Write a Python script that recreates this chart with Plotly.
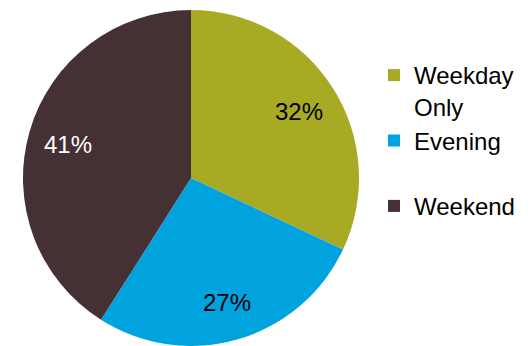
import math
import plotly.graph_objects as go

labels = ["Weekday<br>Only", "Evening<br>&nbsp;", "Weekend"]
values = [32, 27, 41]
colors = ["#A8AA24", "#00A3DE", "#453033"]
text_colors = ["black", "black", "white"]

W, H = 531, 346
dom_x = [23 / W, 359 / W]
dom_y = [0, 1 - 10 / H]

fig = go.Figure(go.Pie(
    labels=labels,
    values=values,
    sort=False,
    direction="clockwise",
    rotation=0,
    marker=dict(colors=colors, line=dict(width=0)),
    textinfo="none",
    hoverinfo="skip",
    domain=dict(x=dom_x, y=dom_y),
))

# percentage labels placed along each slice's mid-angle
total = sum(values)
cx = (dom_x[0] + dom_x[1]) / 2 * W
cy = (1 - (dom_y[0] + dom_y[1]) / 2) * H
R = min((dom_x[1] - dom_x[0]) * W, (dom_y[1] - dom_y[0]) * H) / 2
cum = 0
for v, tc in zip(values, text_colors):
    mid = (cum + v / 2) / total * 2 * math.pi
    cum += v
    px = cx + 0.76 * R * math.sin(mid)
    py = cy - 0.76 * R * math.cos(mid) + 2
    fig.add_annotation(
        x=px / W, y=1 - py / H, xref="paper", yref="paper",
        xanchor="center", yanchor="middle",
        text=f"{round(v / total * 100)}%", showarrow=False,
        font=dict(family="Liberation Sans, Arial", size=24, color=tc),
    )

fig.update_layout(
    width=W, height=H,
    margin=dict(l=0, r=0, t=0, b=0),
    paper_bgcolor="white",
    showlegend=True,
    legend=dict(
        x=374 / W, xanchor="left",
        y=1 - 53 / H, yanchor="top",
        valign="top",
        font=dict(family="Liberation Sans, Arial", size=24, color="black"),
    ),
)
fig.write_html("out.html")
